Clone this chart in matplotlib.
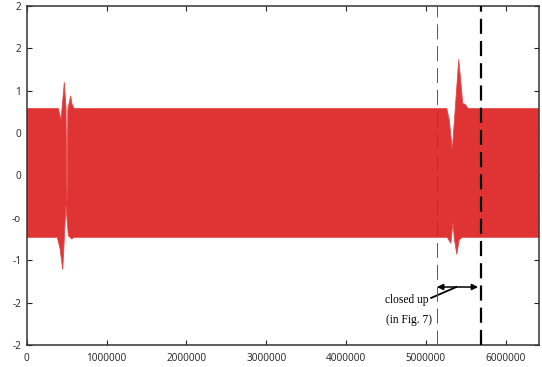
import numpy as np
import matplotlib.pyplot as plt

# envelope of the signal (sample index, amplitude)
upper_x = [0, 396000, 430000, 471000, 492000, 505000, 515000, 551000, 565000, 593000,
           5261000, 5293000, 5330000, 5411000, 5461000, 5490000, 5530000, 6410000]
upper_y = [0.79, 0.79, 0.66, 1.10, 0.80, -0.30, 0.78, 0.94, 0.85, 0.79,
           0.79, 0.65, 0.30, 1.37, 0.85, 0.84, 0.79, 0.79]
lower_x = [0, 383000, 417000, 451000, 492000, 521000, 564000, 593000,
           5267000, 5311000, 5338000, 5355000, 5386000, 5417000, 5455000, 6410000]
lower_y = [-0.73, -0.73, -0.86, -1.11, -0.35, -0.71, -0.75, -0.73,
           -0.73, -0.80, -0.56, -0.74, -0.93, -0.76, -0.73, -0.73]

x_ticks = [0, 1000000, 2000000, 3000000, 4000000, 5000000, 6000000]
x_labels = ['0', '1000000', '2000000', '3000000', '4000000', '5000000', '6000000']
y_ticks = [-2, -1.5, -1, -0.5, 0, 0.5, 1, 1.5, 2]
y_labels = ['-2', '-2', '-1', '-o', '0', '0', '1', '2', '2']

zoom_start = 5138000
zoom_end = 5693000
arrow_y = -1.316

fig = plt.figure(figsize=(5.42, 3.67), dpi=100)
ax = fig.add_axes([0.0493, 0.060, 0.9443, 0.9237])

# filled signal band
poly_x = np.concatenate([upper_x, lower_x[::-1]])
poly_y = np.concatenate([upper_y, lower_y[::-1]])
ax.fill(poly_x, poly_y, color='#e03434', lw=0.6, ec='#e44a4a', zorder=2)

# zoom window markers
ax.axvline(zoom_start, color='#555555', lw=0.7, dashes=(15.4, 7.1), zorder=3)
ax.axvline(zoom_end, color='black', lw=1.6, dashes=(6.8, 3.2), zorder=3)

ax.annotate('', xy=(zoom_end - 40000, arrow_y), xytext=(zoom_start, arrow_y),
            arrowprops=dict(arrowstyle='<|-|>', color='black', lw=1.1,
                            mutation_scale=9, shrinkA=0, shrinkB=0))
ax.plot([5065000, 5380000], [-1.445, arrow_y], color='black', lw=1.3)
ax.text(4760000, -1.475, 'closed up', ha='center', va='center',
        family='Liberation Serif', fontsize=8.3)
ax.text(4785000, -1.70, '(in Fig. 7)', ha='center', va='center',
        family='Liberation Serif', fontsize=8.3)

ax.set_xlim(0, 6410000)
ax.set_ylim(-2, 2)
ax.set_xticks(x_ticks)
ax.set_xticklabels(x_labels)
ax.set_yticks(y_ticks)
ax.set_yticklabels(y_labels)
ax.tick_params(direction='in', length=3.5, width=0.8, top=True, right=True,
               labelsize=7.2, pad=4, colors='#222222')
ax.tick_params(axis='x', pad=5.5)
for lab in ax.get_xticklabels() + ax.get_yticklabels():
    lab.set_family('Open Sans')
for sp in ax.spines.values():
    sp.set_color('#333333')
    sp.set_linewidth(1.1)

fig.savefig('out.png', dpi=100)
